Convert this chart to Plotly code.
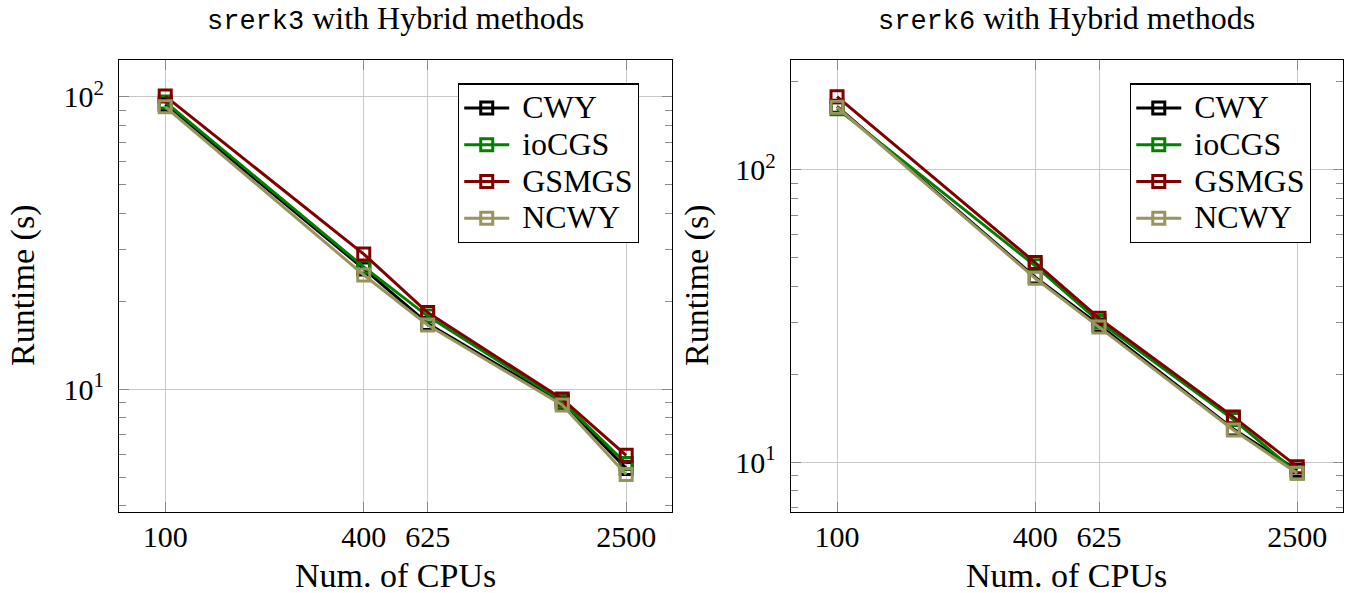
import plotly.graph_objects as go

cpus = [100, 400, 625, 1600, 2500]
methods = ["CWY", "ioCGS", "GSMGS", "NCWY"]
colors = ["#000000", "#008000", "#800000", "#99945f"]

# srerk3 runtimes (s)
srerk3_cwy = [94, 25.8, 16.8, 9.0, 5.37]
srerk3_iocgs = [96, 26.2, 17.8, 9.1, 5.58]
srerk3_gsmgs = [100.5, 29.0, 18.3, 9.27, 5.95]
srerk3_ncwy = [92.4, 24.6, 16.6, 8.84, 5.12]

# srerk6 runtimes (s)
srerk6_cwy = [165, 43, 29.5, 13.0, 9.4]
srerk6_iocgs = [162, 47, 30.3, 14.0, 9.2]
srerk6_gsmgs = [178, 48.2, 31.1, 14.3, 9.66]
srerk6_ncwy = [164, 42.6, 29.0, 12.9, 9.17]

xtick_vals = [100, 400, 625, 2500]
xtick_text = ["100", "400", "625", "2500"]
ytick_vals = [10, 100]
ytick_text = ["10<sup>1</sup>", "10<sup>2</sup>"]

SERIF = "Liberation Serif, Times New Roman, serif"
MONO = "Liberation Mono, DejaVu Sans Mono, monospace"
TICK_FS = 30
LABEL_FS = 34
LEG_FS = 26
LEG_TXT = 32

fig = go.Figure()

panels = [
    ([srerk3_cwy, srerk3_iocgs, srerk3_gsmgs, srerk3_ncwy], "x", "y", "legend"),
    ([srerk6_cwy, srerk6_iocgs, srerk6_gsmgs, srerk6_ncwy], "x2", "y2", "legend2"),
]
for series, xa, ya, lg in panels:
    for name, vals, col in zip(methods, series, colors):
        fig.add_trace(go.Scatter(
            x=cpus, y=vals, mode="lines+markers",
            name=f"<span style='font-size:{LEG_TXT}px'> {name}</span>",
            xaxis=xa, yaxis=ya, legend=lg,
            line=dict(color=col, width=3),
            marker=dict(symbol="square-open", size=12, color=col,
                        line=dict(width=3, color=col)),
        ))

axis_common = dict(
    type="log", showline=True, linecolor="black", linewidth=1.2,
    mirror="allticks", ticks="inside", ticklen=10, tickcolor="#8a8a8a",
    tickwidth=1.2, showgrid=True, gridcolor="#c8c8c8", gridwidth=1,
    zeroline=False, automargin=False,
    tickfont=dict(family=SERIF, size=TICK_FS, color="black"),
)

xaxis_kw = dict(axis_common, tickvals=xtick_vals, ticktext=xtick_text,
                range=[1.86, 3.537], ticklabelstandoff=-2)

def yaxis_kw(rng):
    return dict(axis_common, range=rng, tickvals=ytick_vals, ticktext=ytick_text,
                ticklabelstandoff=8,
                minor=dict(ticks="inside", ticklen=7, tickcolor="#8a8a8a", tickwidth=1.2,
                           showgrid=False, dtick="D1"))

legend_common = dict(xanchor="right", yanchor="top",
                     bgcolor="white", bordercolor="black", borderwidth=1.2,
                     font=dict(family=SERIF, size=LEG_FS, color="black"),
                     itemwidth=45, tracegroupgap=0)

fig.update_layout(
    width=1353, height=593,
    margin=dict(l=0, r=0, t=0, b=0, autoexpand=False),
    paper_bgcolor="white", plot_bgcolor="white",
    font=dict(family=SERIF, size=TICK_FS, color="black"),
    xaxis=dict(xaxis_kw, domain=[0.088, 0.4967], anchor="y"),
    xaxis2=dict(xaxis_kw, domain=[0.5846, 0.9926], anchor="y2"),
    yaxis=dict(yaxis_kw([0.581, 2.1254]), domain=[0.1366, 0.8988], anchor="x"),
    yaxis2=dict(yaxis_kw([0.83, 2.376]), domain=[0.1366, 0.8988], anchor="x2"),
    legend=dict(legend_common, x=0.4723, y=0.8595),
    legend2=dict(legend_common, x=0.969, y=0.8595),
    showlegend=True,
)

# titles
for code, xc in [("srerk3", 0.2923), ("srerk6", 0.7886)]:
    fig.add_annotation(
        x=xc, y=1 - 18 / 593, xref="paper", yref="paper",
        xanchor="center", yanchor="middle", showarrow=False,
        text=f"<span style='font-family:{MONO};font-size:27px'>{code}</span> with Hybrid methods",
        font=dict(family=SERIF, size=32, color="black"),
    )

# axis titles
for xc in [0.2923, 0.7886]:
    fig.add_annotation(
        x=xc, y=1 - 575 / 593, xref="paper", yref="paper",
        xanchor="center", yanchor="middle", showarrow=False,
        text="Num. of CPUs", font=dict(family=SERIF, size=LABEL_FS, color="black"),
    )
for xp in [23, 697]:
    fig.add_annotation(
        x=xp / 1353, y=1 - 286 / 593, xref="paper", yref="paper",
        xanchor="center", yanchor="middle", showarrow=False, textangle=-90,
        text="Runtime (s)", font=dict(family=SERIF, size=LABEL_FS, color="black"),
    )

fig.write_html(
    "out.html",
    config={"displayModeBar": False},
    post_script="document.body.style.margin='0';document.body.style.overflow='hidden';"
                "document.documentElement.style.overflow='hidden';",
)
